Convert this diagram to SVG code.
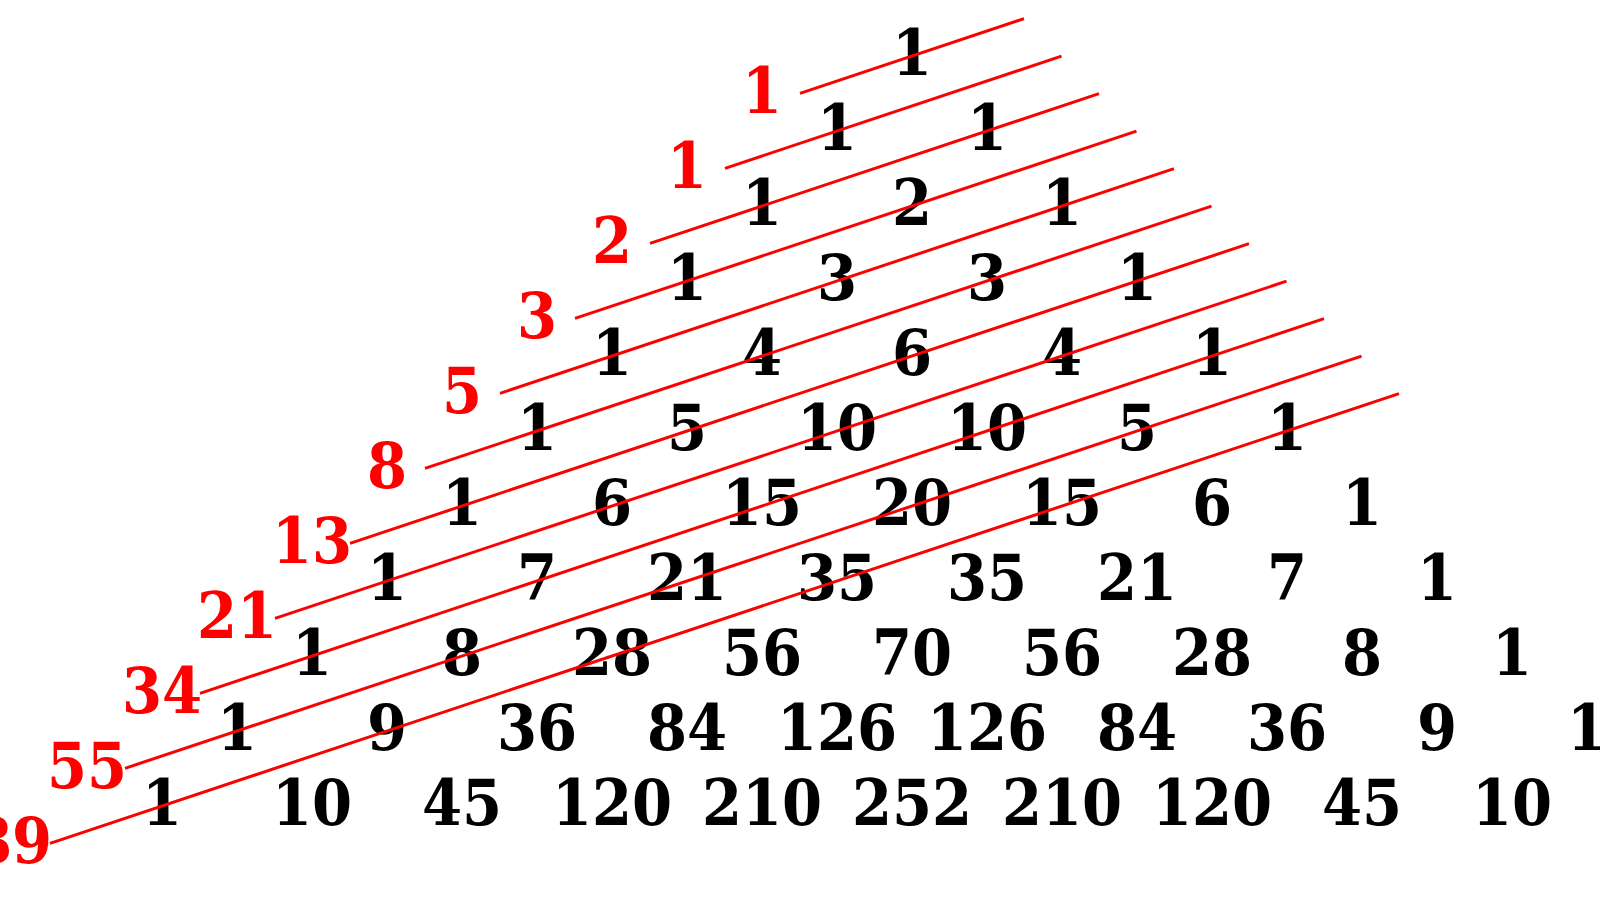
<svg xmlns="http://www.w3.org/2000/svg" width="1600" height="900" viewBox="0 0 1600 900">
<style>
text{font-family:"DejaVu Serif Condensed","DejaVu Serif","Liberation Serif",serif;font-stretch:condensed;font-weight:bold;font-size:64px;text-anchor:middle}
.p{fill:#000}
.f{fill:#ff0000}
.d{stroke:#ff0000;stroke-width:3;fill:none}
</style>
<rect width="1600" height="900" fill="#fff"/>
<g id="pascal">
<g id="row0"><text class="p" x="912" y="75">1</text></g>
<g id="row1"><text class="p" x="837" y="150">1</text><text class="p" x="987" y="150">1</text></g>
<g id="row2"><text class="p" x="762" y="225">1</text><text class="p" x="912" y="225">2</text><text class="p" x="1062" y="225">1</text></g>
<g id="row3"><text class="p" x="687" y="300">1</text><text class="p" x="837" y="300">3</text><text class="p" x="987" y="300">3</text><text class="p" x="1137" y="300">1</text></g>
<g id="row4"><text class="p" x="612" y="375">1</text><text class="p" x="762" y="375">4</text><text class="p" x="912" y="375">6</text><text class="p" x="1062" y="375">4</text><text class="p" x="1212" y="375">1</text></g>
<g id="row5"><text class="p" x="537" y="450">1</text><text class="p" x="687" y="450">5</text><text class="p" x="837" y="450">10</text><text class="p" x="987" y="450">10</text><text class="p" x="1137" y="450">5</text><text class="p" x="1287" y="450">1</text></g>
<g id="row6"><text class="p" x="462" y="525">1</text><text class="p" x="612" y="525">6</text><text class="p" x="762" y="525">15</text><text class="p" x="912" y="525">20</text><text class="p" x="1062" y="525">15</text><text class="p" x="1212" y="525">6</text><text class="p" x="1362" y="525">1</text></g>
<g id="row7"><text class="p" x="387" y="600">1</text><text class="p" x="537" y="600">7</text><text class="p" x="687" y="600">21</text><text class="p" x="837" y="600">35</text><text class="p" x="987" y="600">35</text><text class="p" x="1137" y="600">21</text><text class="p" x="1287" y="600">7</text><text class="p" x="1437" y="600">1</text></g>
<g id="row8"><text class="p" x="312" y="675">1</text><text class="p" x="462" y="675">8</text><text class="p" x="612" y="675">28</text><text class="p" x="762" y="675">56</text><text class="p" x="912" y="675">70</text><text class="p" x="1062" y="675">56</text><text class="p" x="1212" y="675">28</text><text class="p" x="1362" y="675">8</text><text class="p" x="1512" y="675">1</text></g>
<g id="row9"><text class="p" x="237" y="750">1</text><text class="p" x="387" y="750">9</text><text class="p" x="537" y="750">36</text><text class="p" x="687" y="750">84</text><text class="p" x="837" y="750">126</text><text class="p" x="987" y="750">126</text><text class="p" x="1137" y="750">84</text><text class="p" x="1287" y="750">36</text><text class="p" x="1437" y="750">9</text><text class="p" x="1587" y="750">1</text></g>
<g id="row10"><text class="p" x="162" y="825">1</text><text class="p" x="312" y="825">10</text><text class="p" x="462" y="825">45</text><text class="p" x="612" y="825">120</text><text class="p" x="762" y="825">210</text><text class="p" x="912" y="825">252</text><text class="p" x="1062" y="825">210</text><text class="p" x="1212" y="825">120</text><text class="p" x="1362" y="825">45</text><text class="p" x="1512" y="825">10</text><text class="p" x="1662" y="825">1</text></g>
</g>
<g id="fibonacci">
<g id="fib0"><text class="f" x="762" y="113">1</text></g>
<g id="fib1"><text class="f" x="687" y="188">1</text></g>
<g id="fib2"><text class="f" x="612" y="263">2</text></g>
<g id="fib3"><text class="f" x="537" y="338">3</text></g>
<g id="fib4"><text class="f" x="462" y="413">5</text></g>
<g id="fib5"><text class="f" x="387" y="488">8</text></g>
<g id="fib6"><text class="f" x="312" y="563">13</text></g>
<g id="fib7"><text class="f" x="237" y="638">21</text></g>
<g id="fib8"><text class="f" x="162" y="713">34</text></g>
<g id="fib9"><text class="f" x="87" y="788">55</text></g>
<g id="fib10"><text class="f" x="12" y="863">89</text></g>
</g>
<g id="connectors" class="d">
<line x1="800" y1="93.3" x2="1024" y2="18.7"/>
<line x1="725" y1="168.3" x2="1061.5" y2="56.2"/>
<line x1="650" y1="243.3" x2="1099" y2="93.7"/>
<line x1="575" y1="318.3" x2="1136.5" y2="131.2"/>
<line x1="500" y1="393.3" x2="1174" y2="168.7"/>
<line x1="425" y1="468.3" x2="1211.5" y2="206.2"/>
<line x1="350" y1="543.3" x2="1249" y2="243.7"/>
<line x1="275" y1="618.3" x2="1286.5" y2="281.2"/>
<line x1="200" y1="693.3" x2="1324" y2="318.7"/>
<line x1="125" y1="768.3" x2="1361.5" y2="356.2"/>
<line x1="50" y1="843.3" x2="1399" y2="393.7"/>
</g>
</svg>
